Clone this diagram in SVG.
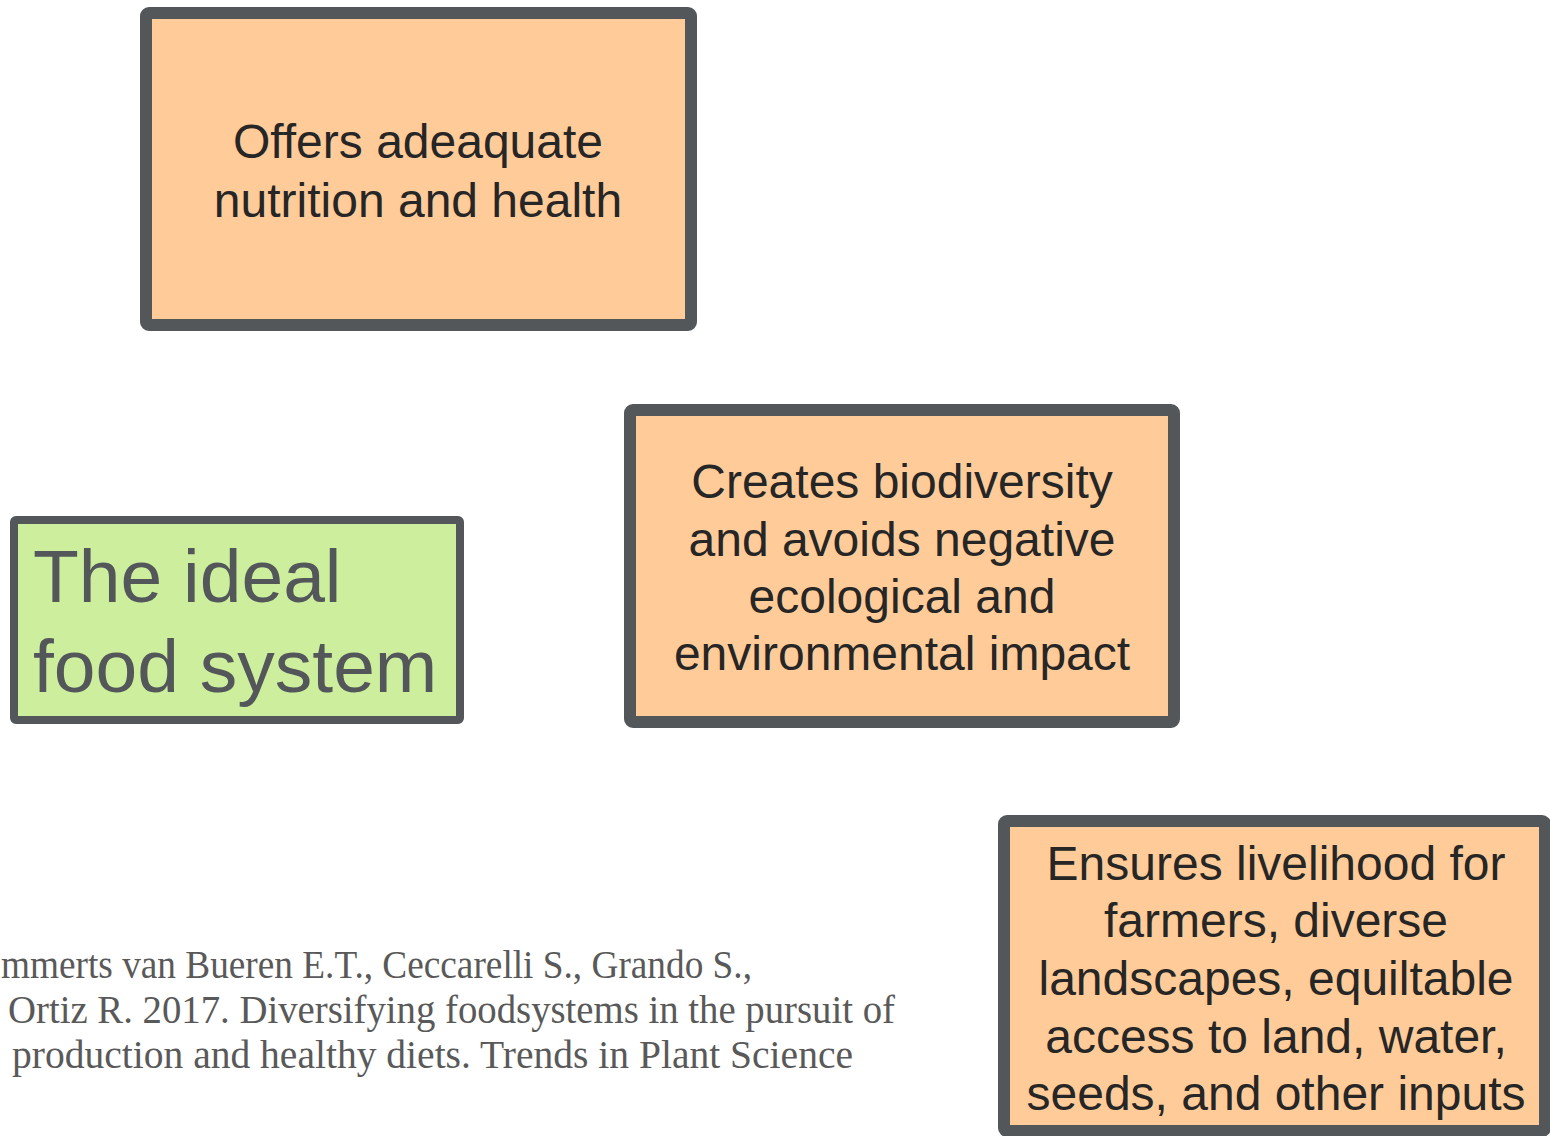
<svg xmlns="http://www.w3.org/2000/svg" width="1550" height="1136" viewBox="0 0 1550 1136">
  <style>
    .card { fill: #FFCC99; stroke: #53575A; stroke-width: 12; }
    .hub { fill: #CCEE9D; stroke: #53575A; stroke-width: 8; }
    .label { font-family: "Liberation Sans", Arial, sans-serif; font-size: 48px; fill: #262626; text-anchor: middle; }
    .hub-label { font-family: "Liberation Sans", Arial, sans-serif; font-size: 75px; fill: #53575A; }
    .cite { font-family: "Liberation Serif", "Times New Roman", serif; font-size: 39px; fill: #595959; }
  </style>
  <rect width="1550" height="1136" fill="#FFFFFF"/>

  <g id="nutrition">
    <rect class="card" x="146" y="13" width="545" height="312" rx="3"/>
    <text class="label" x="418" y="158">Offers adeaquate</text>
    <text class="label" x="418" y="217">nutrition and health</text>
  </g>

  <g id="ideal-food-system">
    <rect class="hub" x="14" y="520" width="446" height="200" rx="2"/>
    <text class="hub-label" x="33" y="602">The ideal</text>
    <text class="hub-label" x="33" y="692">food system</text>
  </g>

  <g id="biodiversity">
    <rect class="card" x="630" y="410" width="544" height="312" rx="3"/>
    <text class="label" x="902" y="498">Creates biodiversity</text>
    <text class="label" x="902" y="556">and avoids negative</text>
    <text class="label" x="902" y="613">ecological and</text>
    <text class="label" x="902" y="670">environmental impact</text>
  </g>

  <g id="livelihood">
    <rect class="card" x="1004" y="821" width="541" height="310" rx="3"/>
    <text class="label" x="1276" y="880">Ensures livelihood for</text>
    <text class="label" x="1276" y="937">farmers, diverse</text>
    <text class="label" x="1276" y="995">landscapes, equiltable</text>
    <text class="label" x="1276" y="1053">access to land, water,</text>
    <text class="label" x="1276" y="1110">seeds, and other inputs</text>
  </g>

  <g id="connectors"/>

  <g id="citation">
    <text class="cite" x="1" y="978" textLength="751" lengthAdjust="spacingAndGlyphs">mmerts van Bueren E.T., Ceccarelli S., Grando S.,</text>
    <text class="cite" x="8" y="1023" textLength="887" lengthAdjust="spacingAndGlyphs">Ortiz R. 2017. Diversifying foodsystems in the pursuit of</text>
    <text class="cite" x="12" y="1068" textLength="841" lengthAdjust="spacingAndGlyphs">production and healthy diets. Trends in Plant Science</text>
  </g>
</svg>
